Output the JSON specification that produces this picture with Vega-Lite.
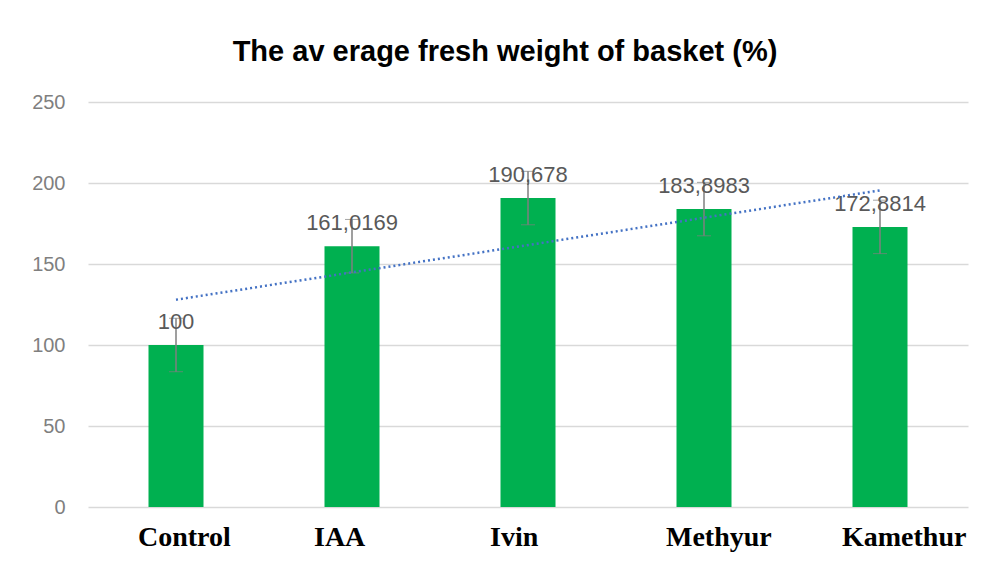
{
  "$schema": "https://vega.github.io/schema/vega-lite/v6.json",
  "autosize": {"type": "none"},
  "padding": {"left": 88, "top": 102, "right": 16, "bottom": 58},
  "width": 880,
  "height": 405,
  "background": "white",
  "title": {
    "text": "The av erage fresh weight of basket (%)",
    "font": "Liberation Sans",
    "fontSize": 29,
    "fontWeight": "bold",
    "color": "#000000",
    "anchor": "middle",
    "frame": "group",
    "dx": -23,
    "offset": 25
  },
  "data": {
    "values": [
      {"cat": "Control", "value": 100, "label": "100", "lo": 83.5, "hi": 116.5},
      {"cat": "IAA", "value": 161.0169, "label": "161,0169", "lo": 144.5, "hi": 177.5},
      {"cat": "Ivin", "value": 190.678, "label": "190,678", "lo": 174.2, "hi": 207.2},
      {"cat": "Methyur", "value": 183.8983, "label": "183,8983", "lo": 167.4, "hi": 200.4},
      {"cat": "Kamethur", "value": 172.8814, "label": "172,8814", "lo": 156.4, "hi": 189.4}
    ]
  },
  "layer": [
    {
      "layer": [
        {
          "mark": {"type": "bar", "color": "#00B050", "size": 55},
          "encoding": {
            "x": {
              "field": "cat", "type": "nominal", "sort": null,
              "axis": {
                "title": null, "ticks": false, "domain": false,
                "labelAngle": 0, "labelFont": "Liberation Serif",
                "labelFontSize": 28, "labelFontWeight": "bold",
                "labelColor": "#000000", "labelPadding": 16,
                "labelAlign": "left", "labelOffset": -38
              }
            },
            "y": {
              "field": "value", "type": "quantitative",
              "scale": {"domain": [0, 250], "nice": false},
              "axis": {
                "title": null, "values": [0, 50, 100, 150, 200, 250],
                "ticks": false, "domain": false, "labelPadding": 23,
                "labelFont": "Liberation Sans", "labelFontSize": 20,
                "labelColor": "#7f7f7f", "gridColor": "#d9d9d9", "gridWidth": 1.5
              }
            }
          }
        },
        {
          "mark": {"type": "errorbar", "ticks": {"size": 14, "color": "#7f7f7f"}, "rule": {"color": "#7f7f7f", "strokeWidth": 1.5}},
          "encoding": {
            "x": {"field": "cat", "type": "nominal", "sort": null},
            "y": {"field": "lo", "type": "quantitative", "scale": {"domain": [0, 250], "nice": false}},
            "y2": {"field": "hi"}
          }
        },
        {
          "mark": {"type": "text", "font": "Liberation Sans", "fontSize": 22, "color": "#595959", "baseline": "alphabetic", "dy": -16},
          "encoding": {
            "x": {"field": "cat", "type": "nominal", "sort": null},
            "y": {"field": "value", "type": "quantitative", "scale": {"domain": [0, 250], "nice": false}},
            "text": {"field": "label"}
          }
        }
      ]
    },
    {
      "transform": [
        {"window": [{"op": "row_number", "as": "i"}]},
        {"regression": "value", "on": "i"}
      ],
      "mark": {"type": "line", "color": "#4472C4", "strokeWidth": 2.5, "strokeDash": [2, 3]},
      "encoding": {
        "x": {"field": "i", "type": "quantitative", "scale": {"domain": [0.5, 5.5], "nice": false, "zero": false}, "axis": null},
        "y": {"field": "value", "type": "quantitative", "scale": {"domain": [0, 250], "nice": false}}
      }
    }
  ],
  "resolve": {"scale": {"x": "independent"}},
  "config": {"view": {"stroke": null}}
}
